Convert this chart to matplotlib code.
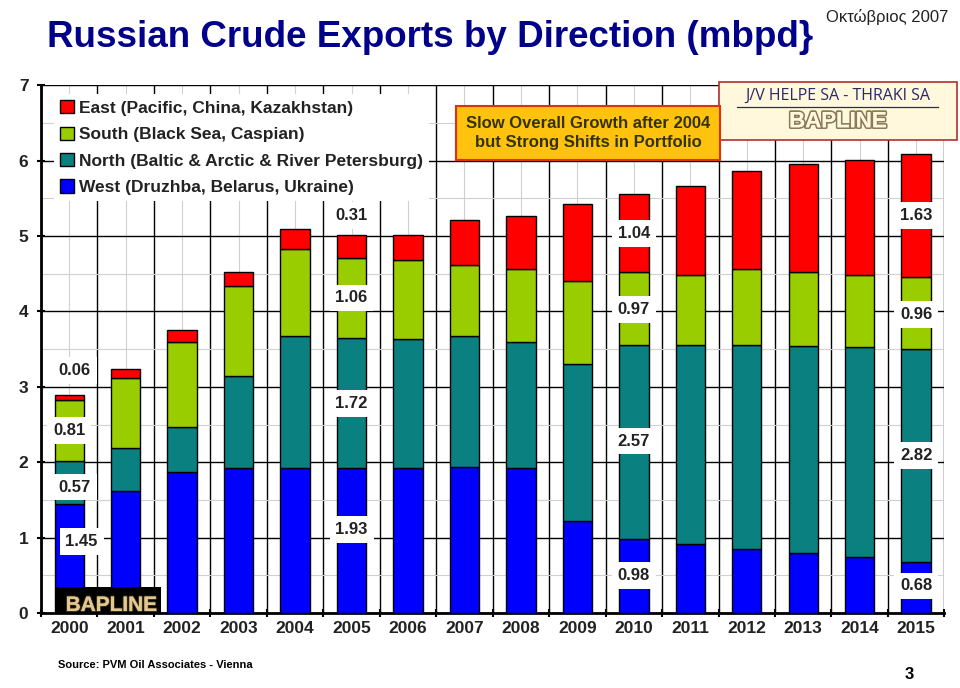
import numpy as np
import matplotlib.pyplot as plt
from matplotlib.patches import Rectangle
import matplotlib.patheffects as pe

plt.rcParams['font.family'] = ['Liberation Sans', 'DejaVu Sans']

years = ['2000', '2001', '2002', '2003', '2004', '2005', '2006', '2007',
         '2008', '2009', '2010', '2011', '2012', '2013', '2014', '2015']
west = [1.45, 1.62, 1.87, 1.92, 1.92, 1.93, 1.92, 1.94, 1.92, 1.22, 0.98, 0.91, 0.85, 0.80, 0.74, 0.68]
north = [0.57, 0.57, 0.60, 1.22, 1.76, 1.72, 1.72, 1.73, 1.68, 2.08, 2.57, 2.64, 2.71, 2.74, 2.79, 2.82]
south = [0.81, 0.93, 1.12, 1.20, 1.15, 1.06, 1.04, 0.95, 0.96, 1.11, 0.97, 0.93, 1.00, 0.99, 0.95, 0.96]
east = [0.06, 0.12, 0.17, 0.18, 0.26, 0.31, 0.34, 0.59, 0.70, 1.01, 1.04, 1.19, 1.30, 1.43, 1.53, 1.63]

series = [
    ('West (Druzhba, Belarus, Ukraine)', west, '#0000ff'),
    ('North (Baltic & Arctic & River Petersburg)', north, '#0b8080'),
    ('South (Black Sea, Caspian)', south, '#9acd00'),
    ('East (Pacific, China, Kazakhstan)', east, '#ff0000'),
]

# years with white value boxes, and where the boxes sit (y in mbpd, per series W,N,S,E)
label_years = [0, 5, 10, 15]
label_y = {0: [0.95, 1.67, 2.42, 3.22], 5: [1.11, 2.78, 4.18, 5.27],
           10: [0.50, 2.28, 4.03, 5.03], 15: [0.36, 2.09, 3.96, 5.27]}
label_dx = {0: [0.22, 0.1, 0.0, 0.1], 5: [0, 0, 0, 0], 10: [0, 0, 0, 0], 15: [0, 0, 0, 0]}

fig = plt.figure(figsize=(9.6, 6.88), dpi=100)
ax = fig.add_axes([0.0427, 0.109, 0.941, 0.767])

x = np.arange(len(years))
bottom = np.zeros(len(years))
handles = {}
for name, vals, col in series:
    b = ax.bar(x, vals, 0.52, bottom=bottom, color=col, edgecolor='black', linewidth=1, zorder=3, label=name)
    handles[name] = b
    bottom += np.array(vals)

ax.set_xlim(-0.5, len(years) - 0.5)
ax.set_ylim(0, 7)
ax.set_yticks(range(8))
ax.set_yticks(np.arange(0.5, 7, 1), minor=True)
ax.set_xticks(np.arange(-0.5, len(years), 1))
ax.set_xticklabels([])
ax.set_xticks(x, minor=True)
ax.set_xticklabels(years, minor=True)
ax.tick_params(axis='x', which='minor', length=0, labelsize=12.5, pad=6)
ax.tick_params(axis='x', which='major', length=6, width=1.5, direction='inout')
ax.tick_params(axis='y', which='major', length=6, width=1.5, direction='inout', labelsize=12.5, pad=6)
ax.tick_params(axis='y', which='minor', length=0)
for lab in ax.get_xticklabels(minor=True) + ax.get_yticklabels():
    lab.set_fontweight('bold')
    lab.set_color('#222222')
ax.grid(True, which='major', color='black', linewidth=1, zorder=0)
ax.grid(True, which='minor', color='#d0d0d0', linewidth=0.8, zorder=0)
ax.set_axisbelow(True)
for s in ['top', 'right']:
    ax.spines[s].set_visible(False)
ax.spines['left'].set_linewidth(2)
ax.spines['bottom'].set_linewidth(2)

# value boxes
for i in label_years:
    for k, (name, vals, col) in enumerate(series):
        ax.text(i + label_dx[i][k], label_y[i][k], f'{vals[i]:.2f}', ha='center', va='center',
                fontsize=12, fontweight='bold', color='#222222', zorder=5,
                bbox=dict(boxstyle='square,pad=0.35', fc='white', ec='none'))

leg_order = ['East (Pacific, China, Kazakhstan)', 'South (Black Sea, Caspian)',
             'North (Baltic & Arctic & River Petersburg)', 'West (Druzhba, Belarus, Ukraine)']
leg = ax.legend([handles[n] for n in leg_order], leg_order, loc='upper left',
                bbox_to_anchor=(0.005, 1.0), frameon=True, fancybox=False, edgecolor='none',
                framealpha=1, fontsize=12.5, handlelength=0.8, handleheight=0.8,
                handletextpad=0.3, labelspacing=0.62, borderpad=0.35)
for t in leg.get_texts():
    t.set_fontweight('bold')
    t.set_color('#222222')
leg.set_zorder(6)

# comment box
fig.text(0.6125, 0.807, 'Slow Overall Growth after 2004\nbut Strong Shifts in Portfolio',
         ha='center', va='center', fontsize=12, fontweight='bold', color='#333300',
         linespacing=1.3, zorder=10,
         bbox=dict(boxstyle='square,pad=0.6', fc='#ffc20e', ec='#e03010', lw=1.5))

# top right box
fig.patches.append(Rectangle((0.749, 0.797), 0.248, 0.084, transform=fig.transFigure,
                             fc='#fff8dc', ec='#b03030', lw=1.2, zorder=9))
fig.text(0.873, 0.860, 'J/V HELPE SA - THRAKI SA', ha='center', va='center', fontsize=11.5,
         color='#2a2a6a', zorder=11, family='Open Sans')
fig.lines.append(plt.Line2D([0.768, 0.977], [0.845, 0.845], transform=fig.transFigure,
                            color='#2a2a6a', lw=0.9, zorder=11))
fig.text(0.873, 0.823, 'BAPLINE', ha='center', va='center', fontsize=16, fontweight='bold',
         color='#fff8dc', zorder=11,
         path_effects=[pe.withStroke(linewidth=2.5, foreground='#8a7a5a'), pe.Normal()])

# bottom-left logo
fig.patches.append(Rectangle((0.058, 0.109), 0.11, 0.038, transform=fig.transFigure,
                             fc='black', ec='none', zorder=9))
fig.text(0.116, 0.12, 'BAPLINE', ha='center', va='center', fontsize=15, fontweight='bold',
         color='#e2c88e', zorder=11,
         path_effects=[pe.withStroke(linewidth=1.5, foreground='#3a3020'), pe.Normal()])

fig.text(0.049, 0.945, 'Russian Crude Exports by Direction (mbpd}', ha='left', va='center',
         fontsize=26.5, fontweight='bold', color='#00008b')
fig.text(0.988, 0.987, 'Οκτώβριος 2007', ha='right', va='top', fontsize=12, color='#222222')
fig.text(0.06, 0.033, 'Source: PVM Oil Associates - Vienna', ha='left', va='center',
         fontsize=8, fontweight='bold')
fig.text(0.947, 0.008, '3', ha='center', va='bottom', fontsize=12, fontweight='bold')

fig.savefig('out.png', dpi=100)
